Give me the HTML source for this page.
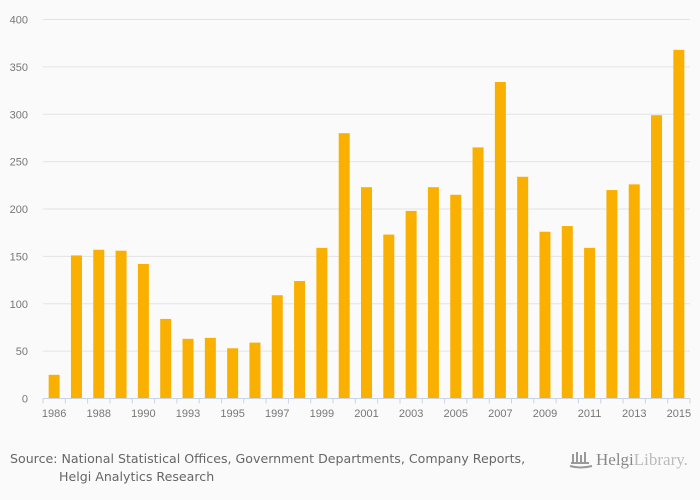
<!DOCTYPE html>
<html><head><meta charset="utf-8"><style>
body{margin:0;background:#fafafa;width:700px;height:500px;overflow:hidden;font-family:"Liberation Sans",sans-serif}
svg{position:absolute;left:0;top:0}
</style></head><body>
<svg width="700" height="500">
<g id="grid"></g><g id="bars"></g><g id="xaxis"></g>
<text x="10" y="463" font-family="DejaVu Sans,sans-serif" font-size="12.6" fill="#666">Source: National Statistical Offices, Government Departments, Company Reports,</text>
<text x="59" y="481" font-family="DejaVu Sans,sans-serif" font-size="12.6" fill="#666">Helgi Analytics Research</text>
<g>
<path d="M571 463 h18 M573 463 v-9 M577 463 v-11 M581 463 v-8 M585 463 v-11 M570 466 q10 3 22 0" stroke="#999" stroke-width="2" fill="none"/>
<text x="596" y="465" font-family="Liberation Serif,serif" font-size="17" fill="#888">Helgi<tspan fill="#bbb">Library.</tspan></text>
</g>
</svg>
<script>
const years=[1986,1987,1988,1989,1990,1992,1993,1994,1995,1996,1997,1998,1999,2000,2001,2002,2003,2004,2005,2006,2007,2008,2009,2010,2011,2012,2013,2014,2015];
const values=[25,151,157,156,142,84,63,64,53,59,109,124,159,280,223,173,198,223,215,265,334,234,176,182,159,220,226,299,368];
const yTicks=[0,50,100,150,200,250,300,350,400];
const xLabels=[1986,1988,1990,1993,1995,1997,1999,2001,2003,2005,2007,2009,2011,2013,2015];
const NS="http://www.w3.org/2000/svg";
const x0=43,x1=690,y0=398.5,y1=19.5,ymax=400;
const band=(x1-x0)/years.length;
const X=i=>x0+band*(i+0.5);
const Y=v=>y0-(v/ymax)*(y0-y1);
function mk(t,a,p){const e=document.createElementNS(NS,t);for(const k in a)e.setAttribute(k,a[k]);p.appendChild(e);return e;}
const grid=document.getElementById('grid'),bars=document.getElementById('bars'),xa=document.getElementById('xaxis');
yTicks.forEach(v=>{
 if(v>0){const l=mk('line',{x1:x0,x2:x1,y1:Y(v),y2:Y(v),stroke:'#e3e3e3','stroke-width':1},grid);
 
 }
 const t=mk('text',{x:28,y:Y(v)+4,'text-anchor':'end','font-size':11,fill:'#777'},grid);t.textContent=v;
 
 
});
values.forEach((v,i)=>{
 const r=mk('rect',{x:X(i)-5.5,y:Y(v),width:11,height:y0-Y(v),fill:'#f9b000'},bars);
 
 
});
const ax=mk('line',{x1:x0,x2:x1,y1:y0,y2:y0,stroke:'#c8d4e6','stroke-width':1},xa);


for(let i=0;i<=years.length;i++){mk('line',{x1:x0+band*i,x2:x0+band*i,y1:y0,y2:y0+5,stroke:'#c8d4e6'},xa);}
xLabels.forEach(yr=>{
 const i=years.indexOf(yr);
 const t=mk('text',{x:X(i),y:417,'text-anchor':'middle','font-size':11,fill:'#777'},xa);t.textContent=yr;
 
 
});
</script>
</body></html>
